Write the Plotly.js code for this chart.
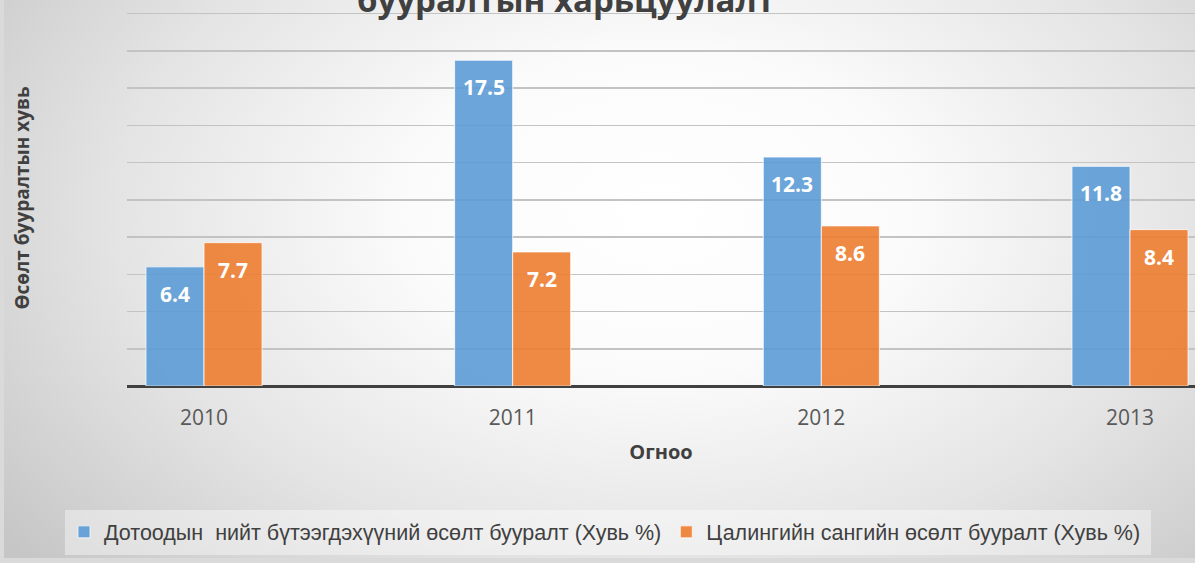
<!DOCTYPE html>
<html><head><meta charset="utf-8">
<script src="https://cdn.plot.ly/plotly-3.0.1.min.js"></script>
<style>
html,body{margin:0;padding:0;background:#dadada;}
#wrap{position:relative;width:1195px;height:563px;overflow:hidden;background:#dadada;}
#bg{position:absolute;left:4px;top:0;width:1191px;height:558px;
 background:radial-gradient(ellipse 70% 95% at 55% 38%, #ffffff 0%, #fbfbfb 30%, #e4e4e4 65%, #c6c6c6 100%);}
#chart{position:absolute;left:0;top:0;width:1195px;height:563px;}
</style></head>
<body><div id="wrap"><div id="bg"></div><div id="chart"></div></div>
<script>
const years = ['2010','2011','2012','2013'];
const gdpGrowth = [6.4, 17.5, 12.3, 11.8];
const wageFundGrowth = [7.7, 7.2, 8.6, 8.4];
const seriesNames = ['Дотоодын\u00a0 нийт бүтээгдэхүүний өсөлт бууралт (Хувь %)',
                     'Цалингийн сангийн өсөлт бууралт (Хувь %)'];
const titleText = 'бууралтын харьцуулалт';
const xTitle = 'Огноо';
const yTitle = 'Өсөлт бууралтын хувь';

const blue = 'rgba(91,155,213,0.9)';
const orange = 'rgba(237,125,49,0.9)';
const font = 'Open Sans, Liberation Sans, sans-serif';

const traces = [
  {type:'bar', x:years, y:gdpGrowth, name:seriesNames[0],
   marker:{color:blue, line:{color:'rgba(255,255,255,0.75)', width:1}}, hoverinfo:'skip'},
  {type:'bar', x:years, y:wageFundGrowth, name:seriesNames[1],
   marker:{color:orange, line:{color:'rgba(255,255,255,0.75)', width:1}}, hoverinfo:'skip'}
];

const annotations = [];
[gdpGrowth, wageFundGrowth].forEach((vals, si) => {
  vals.forEach((v, i) => {
    annotations.push({x:i, y:v, xref:'x', yref:'y', text:'<b>'+v.toFixed(1)+'</b>',
      showarrow:false, xshift: si===0 ? -29 : 29, yshift:-27, yanchor:'middle', xanchor:'center',
      font:{family:font, size:21, color:'#ffffff'}});
  });
});
annotations.push({x:0.411, y:0.964, xref:'paper', yref:'paper', text:'<b>'+titleText+'</b>',
  showarrow:false, xanchor:'center', yanchor:'bottom',
  font:{family:font, size:33, color:'#404040'}});

const layout = {
  width:1195, height:563,
  margin:{l:127, r:0, t:10, b:177},
  paper_bgcolor:'rgba(0,0,0,0)', plot_bgcolor:'rgba(0,0,0,0)',
  barmode:'group', bargap:0.624, bargroupgap:0,
  showlegend:true,
  legend:{orientation:'h', x:-0.059, y:-0.388, xanchor:'left', yanchor:'middle',
    bgcolor:'rgba(0,0,0,0)', font:{family:'Liberation Sans, sans-serif', size:21.5, color:'#404040'},
    itemwidth:30, traceorder:'normal'},
  xaxis:{type:'category', range:[-0.2495, 3.2106], showgrid:false, zeroline:false, showline:false,
    ticks:'outside', ticklen:13, tickcolor:'rgba(0,0,0,0)',
    tickfont:{family:font, size:21, color:'#595959'},
    title:{text:'<b>'+xTitle+'</b>', standoff:14, font:{family:font, size:20, color:'#404040'}}},
  yaxis:{range:[0, 20.2], dtick:2, showticklabels:false, ticks:'',
    showgrid:true, gridcolor:'#c3c3c3', gridwidth:1.5,
    zeroline:true, zerolinecolor:'#404040', zerolinewidth:3,
    title:{text:'<b>'+yTitle+'</b>', standoff:91, font:{family:font, size:19, color:'#404040'}}},
  shapes:[{type:'rect', xref:'paper', yref:'paper', x0:-0.0581, x1:0.9588, y0:-0.4495, y1:-0.3298,
    fillcolor:'rgba(255,255,255,0.4)', line:{width:0}, layer:'below'}],
  annotations:annotations
};
Plotly.newPlot('chart', traces, layout, {displayModeBar:false, staticPlot:true});
</script>
</body></html>
